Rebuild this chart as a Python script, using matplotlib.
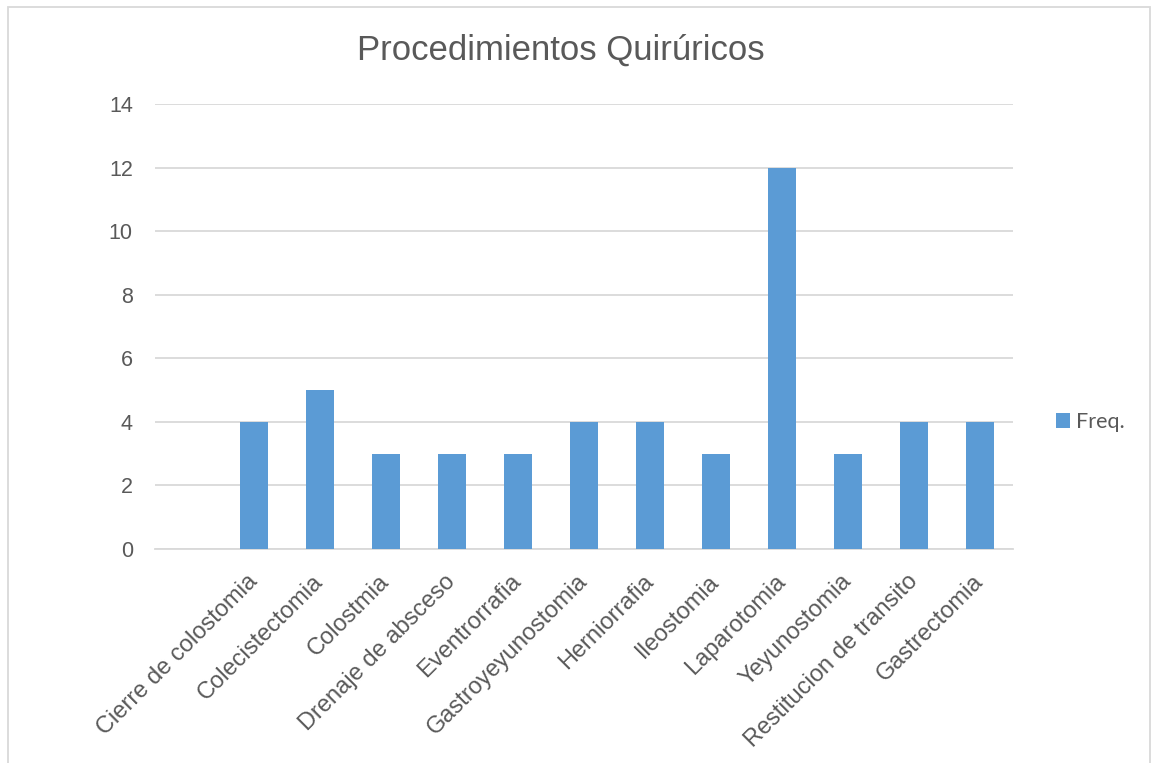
# bar chart of surgical procedure counts

import numpy as np
import matplotlib
matplotlib.use('Agg')
import matplotlib.pyplot as plt
from matplotlib.patches import Rectangle

procedimientos = ['', 'Cierre de colostomia', 'Colecistectomia', 'Colostmia',
                  'Drenaje de absceso', 'Eventrorrafia', 'Gastroyeyunostomia',
                  'Herniorrafia', 'Ileostomia', 'Laparotomia', 'Yeyunostomia',
                  'Restitucion de transito', 'Gastrectomia']
freq = [0, 4, 5, 3, 3, 3, 4, 4, 3, 12, 3, 4, 4]
yticks = [0, 2, 4, 6, 8, 10, 12, 14]

azul = '#5B9BD5'
gris_texto = '#595959'
gris_linea = '#D9D9D9'

plt.rcParams['font.family'] = ['Liberation Sans', 'DejaVu Sans']

fig = plt.figure(figsize=(11.52, 7.63), dpi=100)
ax = fig.add_axes([155 / 1152, 1 - 549 / 763, 858 / 1152, 445 / 763])

x = np.arange(len(procedimientos))
ax.bar(x, freq, width=0.41, color=azul, label='Freq.', zorder=3)

ax.set_xlim(-0.5, len(procedimientos) - 0.5)
ax.set_ylim(0, 14)
ax.set_yticks(yticks)
ax.set_yticklabels([str(v) for v in yticks], fontsize=15.5, color=gris_texto)
ax.set_xticks(x)
ax.set_xticklabels(procedimientos, rotation=45, ha='right', va='center',
                   rotation_mode='anchor', fontsize=17, color=gris_texto)
ax.tick_params(axis='x', length=0, pad=21)
ax.tick_params(axis='y', length=0, pad=16)

ax.yaxis.grid(True, color=gris_linea, linewidth=1.3, zorder=0)
for s in ['top', 'right', 'left']:
    ax.spines[s].set_visible(False)
ax.spines['bottom'].set_color(gris_linea)
ax.spines['bottom'].set_linewidth(1.3)

fig.text(561 / 1152, 1 - 50 / 763, 'Procedimientos Quirúricos', ha='center',
         va='center', fontsize=25, color=gris_texto)

leg = ax.legend(loc='center left', bbox_to_anchor=(1.027, 0.285), frameon=False,
                handlelength=0.65, handleheight=0.65, handletextpad=0.3,
                prop={'family': 'Lato', 'size': 15.5})
for t in leg.get_texts():
    t.set_color(gris_texto)

# chart area border
fig.patches.append(Rectangle((8 / 1152, -0.05), 1142 / 1152, 1.05 - 7 / 763,
                             transform=fig.transFigure, fill=False,
                             edgecolor=gris_linea, linewidth=1.3))

fig.savefig('out.png', dpi=100)
